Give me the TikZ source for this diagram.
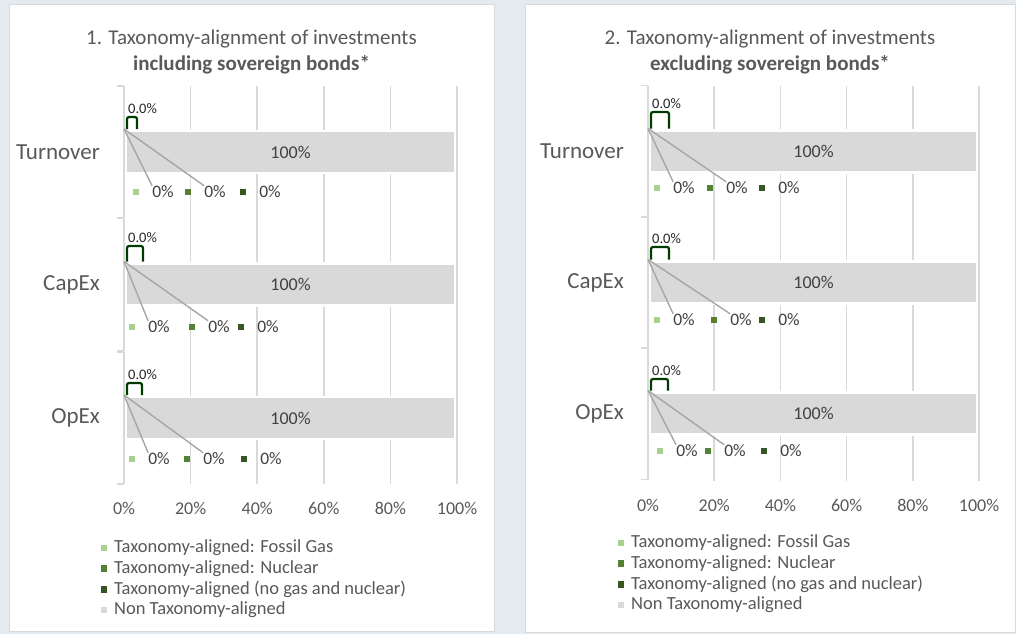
\documentclass[tikz,border=0pt]{standalone}
\usepackage{fontspec}
\setmainfont{Carlito}
\usetikzlibrary{positioning}
\definecolor{pagebg}{RGB}{228,235,240}
\definecolor{rim}{RGB}{217,217,217}
\definecolor{greytext}{RGB}{89,89,89}
\definecolor{darktext}{RGB}{64,64,64}
\definecolor{leadgrey}{RGB}{166,166,166}
\definecolor{gasgreen}{RGB}{169,209,142}
\definecolor{nucgreen}{RGB}{84,130,53}
\definecolor{alignedgreen}{RGB}{55,86,35}
\definecolor{capgreen}{RGB}{0,60,0}
\tikzset{panel/.style = {fill=white, draw=rim, line width=1}}
\tikzset{gridline/.style = {draw=rim, line width=1.6}}
\tikzset{nonbar/.style = {fill=rim, draw=white, line width=2.5, minimum height=42,
                          inner sep=0, text=darktext, font=\fontsize{18}{20}\selectfont}}
\tikzset{sq/.style = {inner sep=0, minimum size=6.5}}
\tikzset{dlab/.style = {inner sep=0, text=darktext, font=\fontsize{17.5}{20}\selectfont}}
\tikzset{smalllab/.style = {inner sep=0, anchor=south west, text=black!85,
                            font=\fontsize{14.5}{16}\selectfont}}
\tikzset{leader/.style = {draw=leadgrey, line width=1.4}}
\tikzset{capbar/.style = {draw=capgreen, line width=2.2, rounded corners=2}}
\tikzset{catlab/.style = {anchor=east, inner sep=0, text=greytext, font=\fontsize{23}{26}\selectfont}}
\tikzset{ticklab/.style = {inner sep=0, text=greytext, font=\fontsize{18}{20}\selectfont}}
\tikzset{leglab/.style = {anchor=west, inner sep=0, text=greytext, font=\fontsize{18.5}{21}\selectfont}}
\tikzset{titlelab/.style = {align=center, inner sep=0, text=greytext, font=\fontsize{21}{26}\selectfont}}

\begin{document}
\begin{tikzpicture}[x=1pt, y=-1pt]
  \useasboundingbox (0,0) rectangle (1016,634);
  \fill[pagebg] (0,0) rectangle (1016,634);

  \foreach \ox/\ex/\ey/\xa/\xb/\tn/\tw/\lx/\ly/\aly in {9/494/631/124/457/1/including/104/548/508,
                                                        525/1015/632/648/979/2/excluding/621/543/505} {
    \draw[panel] (\ox,5) rectangle (\ex,\ey);
    \node[titlelab] (title-\tn) at ({(\ox+\ex)/2},52)
      {\tn. Taxonomy-alignment of investments\\\textbf{\tw\ sovereign bonds*}};
    \foreach \k in {1,...,5} {
      \draw[gridline] ({\xa+\k*(\xb-\xa)/5},86) -- ({\xa+\k*(\xb-\xa)/5},{\aly-24});
    }
    \foreach \k in {0,...,5} {
      \node[ticklab] (tick-\tn-\k) at ({\xa+\k*(\xb-\xa)/5},\aly) {\the\numexpr\k*20\relax\%};
    }
    \foreach \c/\s [count=\j from 0] in {gasgreen/Taxonomy-aligned: Fossil Gas,
                                         nucgreen/Taxonomy-aligned: Nuclear,
                                         alignedgreen/Taxonomy-aligned (no gas and nuclear),
                                         rim/Non Taxonomy-aligned} {
      \node[sq, fill=\c] (key-\tn-\j) at (\lx,{\ly+20.7*\j}) {};
      \node[leglab, right=6.5pt of key-\tn-\j] (keytext-\tn-\j) {\s};
    }
  }

  \foreach \xa/\xb/\cat/\ym/\bw/\bt/\ry/\sa/\sb/\sc in {
      124/457/Turnover/152/10/117/192/136/188/243,
      124/457/CapEx/284.5/16/246/327/132/192/241,
      124/457/OpEx/418/15/383/459/132/187/244,
      648/979/Turnover/151.5/18/112/188/657/710/762,
      648/979/CapEx/282.5/18/247/320/657/714/762,
      648/979/OpEx/413.5/17/379/451/660/708/764} {
    \node[catlab] (cat-\cat-\xa) at (\xa-24,\ym) {\cat};
    \node[nonbar, minimum width={\xb-\xa-4}] (bar-\cat-\xa) at ({(\xa+\xb)/2},\ym) {100\%};
    \draw[gridline] (\xa,\ym-66) -- (\xa,\ym+66);
    \draw[gridline] (\xa-7,\ym-66) -- (\xa,\ym-66);
    \draw[gridline] (\xa-7,\ym+66) -- (\xa,\ym+66);
    \draw[capbar] (\xa+3,\ym-23) |- (\xa+3+\bw,\bt) -- (\xa+3+\bw,\ym-23);
    \node[smalllab] (cap-\cat-\xa) at (\xa+4,\bt-3) {0.0\%};
    \coordinate (o-\cat-\xa) at (\xa,\ym-23);
    \node[sq, fill=gasgreen] (sg-\cat-\xa) at (\sa,\ry) {};
    \node[sq, fill=nucgreen] (sn-\cat-\xa) at (\sb,\ry) {};
    \node[sq, fill=alignedgreen] (sa-\cat-\xa) at (\sc,\ry) {};
    \node[dlab] (dg-\cat-\xa) at (\sa+27,\ry) {0\%};
    \node[dlab] (dn-\cat-\xa) at (\sb+27,\ry) {0\%};
    \node[dlab] (da-\cat-\xa) at (\sc+27,\ry) {0\%};
    \draw[leader] (o-\cat-\xa) -- (dg-\cat-\xa.north west);
    \draw[leader] (o-\cat-\xa) -- (dn-\cat-\xa.north west);
  }
\end{tikzpicture}
\end{document}
